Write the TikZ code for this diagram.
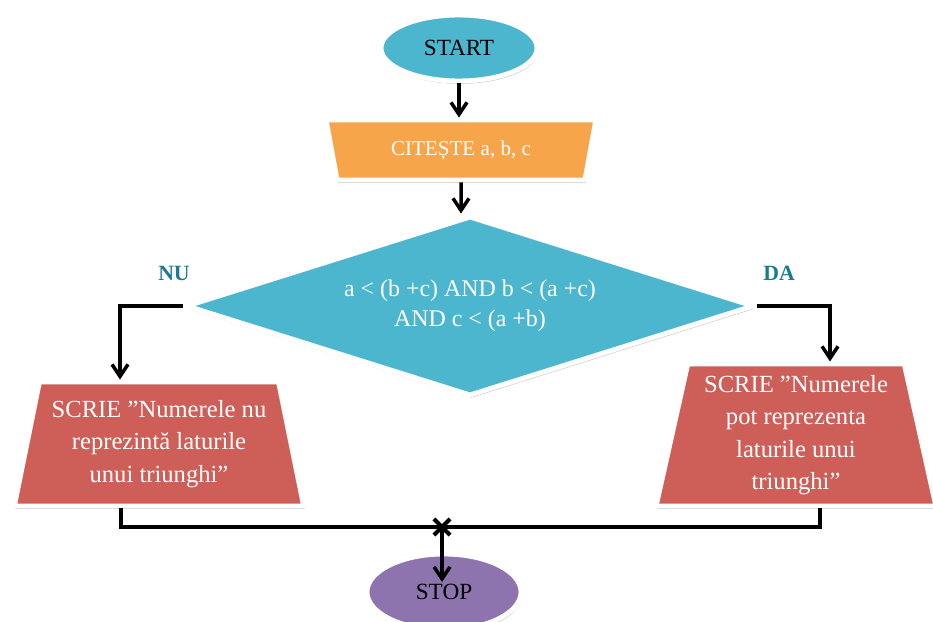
\documentclass[tikz,border=0pt]{standalone}
\usepackage{fontspec}
\setmainfont{Liberation Serif}
\usetikzlibrary{shapes.geometric,shapes.misc,arrows.meta,shadows}
\definecolor{chartblue}{HTML}{4DB6CF}
\definecolor{chartorange}{HTML}{F7A54B}
\definecolor{chartred}{HTML}{CD5F58}
\definecolor{chartpurple}{HTML}{8E74AE}
\definecolor{chartlabel}{HTML}{1C7A93}

\begin{document}
\begin{tikzpicture}[
  x=0.025cm, y=-0.025cm,
  chartbox/.style={draw=white, line width=3.5pt, inner sep=2pt, align=center,
                   drop shadow={shadow xshift=0.8pt, shadow yshift=-2pt, opacity=0.4, fill=black!55}},
  term/.style={chartbox, ellipse, fill=chartblue, font=\fontsize{16.5}{18}\selectfont,
               minimum width=3.9cm, minimum height=1.65cm},
  readbox/.style={chartbox, trapezium, trapezium stretches=true, shape border rotate=180,
                  trapezium angle=75.5, fill=chartorange, text=white,
                  font=\fontsize{15}{18}\selectfont, minimum width=6.75cm, minimum height=1.5cm},
  cond/.style={chartbox, diamond, fill=chartblue, text=white, inner sep=0pt, aspect=3.2,
               font=\fontsize{17}{21}\selectfont, minimum width=14.2cm, minimum height=4.5cm},
  outbox/.style={chartbox, trapezium, trapezium stretches=true, fill=chartred, text=white,
                 font=\fontsize{17.5}{23}\selectfont},
  flow/.style={-{Straight Barb[length=3mm, width=4mm]}, line width=2.5pt},
  wire/.style={line width=2.5pt},
  blab/.style={font=\bfseries\fontsize{15.5}{18}\selectfont, text=chartlabel}
]
\useasboundingbox (0,0) rectangle (933,622);
% blocks
\node[term] (start) at (459,48) {START};
\node[readbox] (read) at (461,150) {CITEȘTE a, b, c};
\node[cond] (cond) at (470,306) {a < (b +c) AND b < (a +c)\\AND c < (a +b)};
\node[outbox, trapezium angle=76, minimum width=7.25cm, minimum height=3.1cm]
  (nubox) at (159,444) {SCRIE ”Numerele nu\\reprezintă laturile\\unui triunghi”};
\node[outbox, trapezium angle=77.5, minimum width=7cm, minimum height=3.55cm]
  (dabox) at (796,435) {SCRIE ”Numerele\\pot reprezenta\\laturile unui\\triunghi”};
\node[term, fill=chartpurple, minimum width=3.85cm, minimum height=1.9cm] (stop) at (444,592) {STOP};
% branch labels
\node[blab] (nu) at (174,273) {NU};
\node[blab] (da) at (779,273) {DA};
% turning points
\coordinate (nuturn) at (120,306);
\coordinate (daturn) at (830,306);
\coordinate (nuend) at (121,527);
\coordinate (daend) at (820,527);
\node[cross out, draw, line width=3pt, minimum size=0.3cm, inner sep=0pt] (join) at (442,527) {};
\coordinate (stoptip) at (442,582);
% connectors
\draw[flow] (start) -- (start |- read.north);
\draw[flow] (read) -- (read |- cond.north);
\draw[flow] (cond.west) -| (nubox.north -| nuturn);
\draw[flow] (cond.east) -| (dabox.north -| daturn);
\draw[wire] (nuend |- nubox.south) -- (nuend) -- (daend) -- (daend |- dabox.south);
\draw[flow] (join.center) -- (stoptip);
\end{tikzpicture}
\end{document}
